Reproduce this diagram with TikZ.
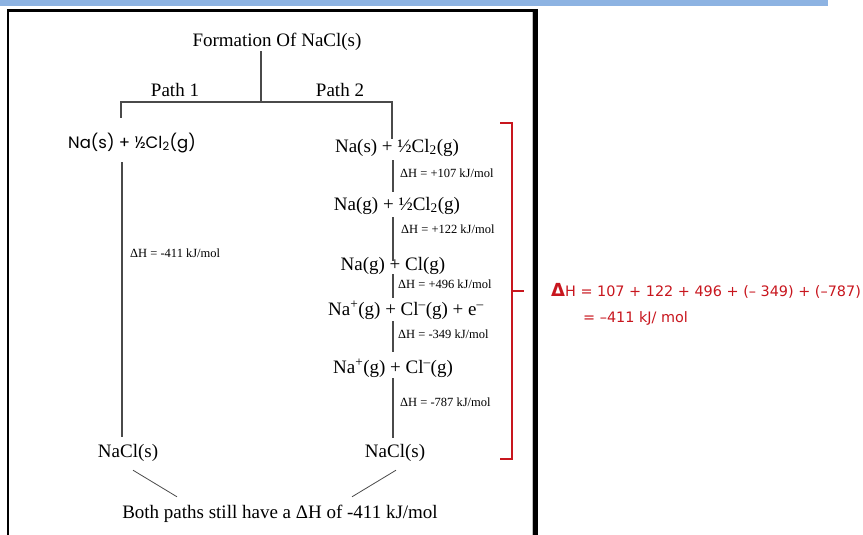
\documentclass[tikz,border=0pt]{standalone}
\usepackage{fontspec}
\setmainfont{Liberation Serif}
\newfontfamily\roundfont{Poppins}
\newfontfamily\calcfont{DejaVu Sans}
\definecolor{bandblue}{HTML}{8DB3E2}
\definecolor{sumred}{HTML}{C8161E}
\definecolor{linkgray}{HTML}{4A4A4A}

\begin{document}
\begin{tikzpicture}[x=1pt, y=-1pt,
    species/.style={inner sep=0pt, anchor=base, text height=13pt, text depth=4pt,
        font=\fontsize{19}{21}\selectfont},
    dhlabel/.style={inner sep=0pt, anchor=base west, font=\fontsize{12.5}{14}\selectfont},
    link/.style={draw=linkgray, line width=1.2pt},
    sumtext/.style={inner sep=0pt, anchor=base west, text=sumred,
        font=\calcfont\fontsize{14.4}{16}\selectfont}]
    \useasboundingbox (0,0) rectangle (863,535);

    % Page frame
    \fill[bandblue] (0,0) rectangle (828,6);
    \draw[line width=3pt] (7,10.5) -- (538,10.5);
    \draw[line width=2pt] (8,10) -- (8,535);
    \draw[line width=5pt] (535.5,9) -- (535.5,535);
    \draw[gray!50, line width=0.8pt] (532.5,12) -- (532.5,535);

    % Title and the two paths
    \node[species] (title) at (277,47) {Formation Of NaCl(s)};
    \node[species] (path1) at (175,96) {Path 1};
    \node[species] (path2) at (340,96) {Path 2};
    \coordinate (split) at (261,102);
    \coordinate (p1) at (121,102);
    \coordinate (p2) at (392,102);
    \coordinate (lspine) at (122,0);
    \coordinate (spine) at (393,0);

    % Path 1
    \node[species, font=\roundfont\fontsize{16.5}{18}\selectfont] (l1) at (132,148)
        {Na(s) + ½Cl\textsubscript{2}(g)};
    \node[species] (l2) at (128,457) {NaCl(s)};
    \node[dhlabel] (dh0) at (130,257) {ΔH = -411 kJ/mol};

    % Path 2
    \node[species] (r1) at (397,152) {Na(s) + ½Cl\textsubscript{2}(g)};
    \node[species] (r2) at (397,210) {Na(g) + ½Cl\textsubscript{2}(g)};
    \node[species] (r3) at (393,270) {Na(g) + Cl(g)};
    \node[species] (r4) at (406,315)
        {Na\textsuperscript{+}(g) + Cl\textsuperscript{--}(g) + e\textsuperscript{--}};
    \node[species] (r5) at (393,373) {Na\textsuperscript{+}(g) + Cl\textsuperscript{--}(g)};
    \node[species] (r6) at (395,457) {NaCl(s)};
    \node[dhlabel] (dh1) at (400,177) {ΔH = +107 kJ/mol};
    \node[dhlabel] (dh2) at (401,233) {ΔH = +122 kJ/mol};
    \node[dhlabel] (dh3) at (398,288) {ΔH = +496 kJ/mol};
    \node[dhlabel] (dh4) at (398,338) {ΔH = -349 kJ/mol};
    \node[dhlabel] (dh5) at (400,406) {ΔH = -787 kJ/mol};

    % Tree lines
    \draw[link] (title.south -| split) -- (split);
    \draw[link, shorten <=17pt] (l1.north -| p1) -- (p1) -- (p2) -- (r1.north -| p2);
    \draw[link, shorten <=10pt, shorten >=7pt] (l1.south -| lspine) -- (l2.north -| lspine);
    \draw[link, shorten <=4pt, shorten >=5pt] (r1.south -| spine) -- (r2.north -| spine);
    \draw[link, shorten <=3pt, shorten >=-4pt] (r2.south -| spine) -- (r3.north -| spine);
    \draw[link, shorten >=4pt] (r3.south -| spine) -- (r4.north -| spine);
    \draw[link, shorten <=2pt, shorten >=8pt] (r4.south -| spine) -- (r5.north -| spine);
    \draw[link, shorten <=1pt, shorten >=6pt] (r5.south -| spine) -- (r6.north -| spine);

    % Both paths meet
    \node[species] (both) at (280,518) {Both paths still have a ΔH of -411 kJ/mol};
    \draw[link, line width=0.8pt] ([xshift=5pt, yshift=-9pt]l2.south) -- ([xshift=-103pt, yshift=8pt]both.north);
    \draw[link, line width=0.8pt] ([xshift=1pt, yshift=-9pt]r6.south) -- ([xshift=72pt, yshift=8pt]both.north);

    % Red bracket and the sum
    \coordinate (bracemid) at (512,291);
    \coordinate (bracetip) at (524,291);
    \draw[sumred, line width=1.5pt] (500,123) -- (512,123) -- (512,459) -- (500,459);
    \draw[sumred, line width=1.5pt] (bracemid) -- (bracetip);
    \node[sumtext] (sum1) at (551,296)
        {{\bfseries\fontsize{18}{18}\selectfont Δ}H = 107 + 122 + 496 + (– 349) + (–787)};
    \node[sumtext] (sum2) at (583,322) {= –411 kJ/ mol};
\end{tikzpicture}
\end{document}
